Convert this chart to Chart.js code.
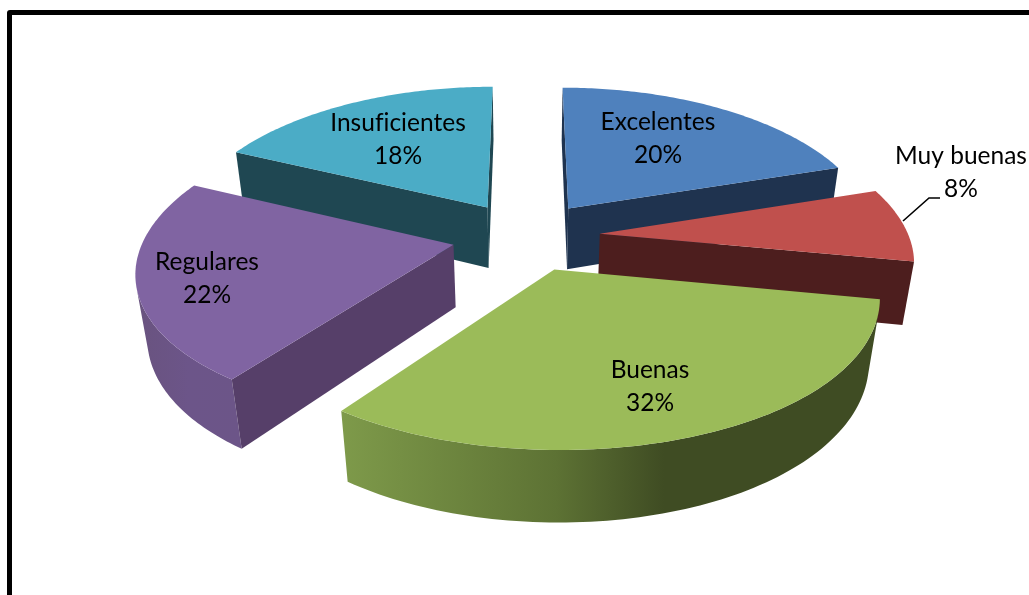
<!DOCTYPE html>
<html>
<head>
<meta charset="utf-8">
<style>
  html, body { margin: 0; padding: 0; background: #fff; overflow: hidden; }
  #wrap { position: relative; width: 1029px; height: 595px; overflow: hidden; }
  #frame { position: absolute; left: 7px; top: 10px; width: 1100px; height: 700px; border: 5px solid #000; border-radius: 3px; }
  canvas { position: absolute; left: 0; top: 0; }
</style>
<script src="https://cdn.jsdelivr.net/npm/chart.js@4"></script>
</head>
<body>
<div id="wrap">
  <div id="frame"></div>
  <canvas id="c" width="1029" height="595"></canvas>
</div>
<script>
const categories = ['Excelentes', 'Muy buenas', 'Buenas', 'Regulares', 'Insuficientes'];
const percents = [20, 8, 32, 22, 18];

const topColors = ['#4F81BD', '#C0504D', '#9BBB59', '#8064A2', '#4BACC6'];
const cutColors = ['#1F334F', '#4D1E1E', '#3F4C23', '#563F69', '#1F4752'];
const wallStops = [
  [[0, '#2F4D71'], [1, '#1F334F']],
  [[0, '#5E2422'], [1, '#4D1E1E']],
  [[0, '#7E9A4A'], [0.4, '#5D7234'], [0.6, '#3F4C23'], [1, '#3F4C23']],
  [[0, '#69537F'], [0.5, '#6C5589'], [1, '#6C5588']],
  [[0, '#2D6777'], [1, '#1F4752']]
];
// centre of each label block, on the canvas
const labelSpots = [[658, 139], [961, 173], [650, 387], [207, 279], [398, 140]];
const leader = [[903, 221], [929, 198], [940, 198]];

const view = { aspect: 2.13, perspX: 0.16, perspY: 0.14, shrink: 0.03, depth: 64, depthGrow: 0.06, explode: 0.24 };

function project(arc, cosT, sinT, r, z) {
  const mid = (arc.startAngle + arc.endAngle) / 2;
  const u = Math.cos(mid) * view.explode + cosT * r;
  const v = Math.sin(mid) * view.explode + sinT * r;
  const sx = 1 / (1 - view.perspX * v + view.shrink * z);
  const sy = 1 / (1 - view.perspY * v + view.shrink * z);
  return [
    arc.x + u * arc.outerRadius * view.aspect * sx,
    arc.y + (v * arc.outerRadius + view.depth * (1 + view.depthGrow * v) * z) * sy
  ];
}

function polygon(ctx, pts, fill) {
  ctx.beginPath();
  pts.forEach((p, i) => i ? ctx.lineTo(p[0], p[1]) : ctx.moveTo(p[0], p[1]));
  ctx.closePath();
  ctx.fillStyle = fill;
  ctx.fill();
}

// positive when the quad faces the viewer
function area(pts) {
  let a = 0;
  pts.forEach((p, i) => {
    const q = pts[(i + 1) % pts.length];
    a += p[0] * q[1] - q[0] * p[1];
  });
  return a;
}

function drawSlice(ctx, arc, i) {
  const steps = 90;
  const top = [], bottom = [];
  for (let k = 0; k <= steps; k++) {
    const t = arc.startAngle + (arc.endAngle - arc.startAngle) * k / steps;
    top.push(project(arc, Math.cos(t), Math.sin(t), 1, 0));
    bottom.push(project(arc, Math.cos(t), Math.sin(t), 1, 1));
  }
  const apexTop = project(arc, 0, 0, 0, 0);
  const apexBottom = project(arc, 0, 0, 0, 1);

  // outer wall, only the part turned to the viewer
  const runTop = [], runBottom = [];
  for (let k = 0; k < steps; k++) {
    if (area([top[k], bottom[k], bottom[k + 1], top[k + 1]]) > 0) {
      if (!runTop.length) { runTop.push(top[k]); runBottom.push(bottom[k]); }
      runTop.push(top[k + 1]);
      runBottom.push(bottom[k + 1]);
    }
  }
  if (runTop.length) {
    const all = runTop.concat(runBottom).map(p => p[0]);
    const x0 = Math.min(...all), x1 = Math.max(...all);
    const grad = ctx.createLinearGradient(x0, 0, x1, 0);
    wallStops[i].forEach(s => grad.addColorStop(s[0], s[1]));
    polygon(ctx, runTop.concat(runBottom.slice().reverse()), grad);
  }

  // the two cut faces
  const cutA = [apexTop, apexBottom, bottom[0], top[0]];
  const cutB = [top[steps], bottom[steps], apexBottom, apexTop];
  if (area(cutA) > 0) polygon(ctx, cutA, cutColors[i]);
  if (area(cutB) > 0) polygon(ctx, cutB, cutColors[i]);

  polygon(ctx, [apexTop].concat(top), topColors[i]);
}

const pie3d = {
  id: 'pie3d',
  beforeDatasetDraw(chart) {
    const ctx = chart.ctx;
    const arcs = chart.getDatasetMeta(0).data;
    // back slices first
    const order = arcs.map((a, i) => i).sort((a, b) =>
      Math.sin((arcs[a].startAngle + arcs[a].endAngle) / 2) -
      Math.sin((arcs[b].startAngle + arcs[b].endAngle) / 2));
    order.forEach(i => drawSlice(ctx, arcs[i], i));

    ctx.strokeStyle = '#000';
    ctx.lineWidth = 1.6;
    ctx.beginPath();
    leader.forEach((p, i) => i ? ctx.lineTo(p[0], p[1]) : ctx.moveTo(p[0], p[1]));
    ctx.stroke();

    ctx.fillStyle = '#000';
    ctx.font = '24.5px Lato, Carlito, sans-serif';
    ctx.letterSpacing = '0.01px'; // keeps the "fi" apart
    ctx.textAlign = 'center';
    ctx.textBaseline = 'middle';
    categories.forEach((name, i) => {
      const [x, y] = labelSpots[i];
      ctx.fillText(name, x, y - 16.5);
      ctx.fillText(percents[i] + '%', x, y + 16.5);
    });
    return false;
  }
};

new Chart(document.getElementById('c'), {
  type: 'pie',
  data: {
    labels: categories,
    datasets: [{ data: percents, backgroundColor: topColors, borderWidth: 0 }]
  },
  options: {
    responsive: false,
    animation: false,
    layout: { padding: { left: 52, right: 29, top: 91, bottom: 214 } },
    plugins: { legend: { display: false }, tooltip: { enabled: false } }
  },
  plugins: [pie3d]
});
</script>
</body>
</html>
